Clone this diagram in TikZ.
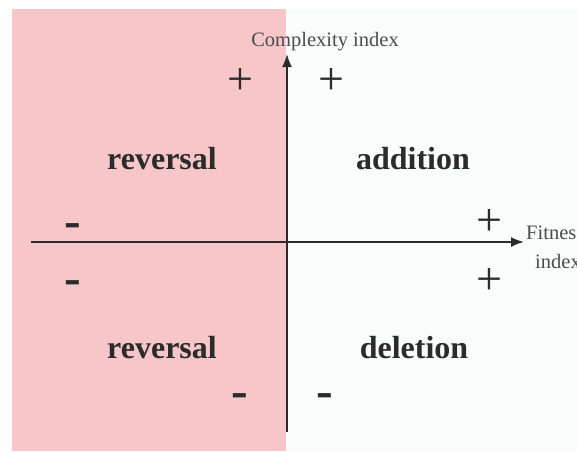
\documentclass[tikz,border=0pt]{standalone}
\usepackage{fontspec}
\setmainfont{Liberation Serif}[BoldFont={Liberation Serif Bold}]
\usetikzlibrary{arrows.meta}
\definecolor{pinkbg}{HTML}{F7C6C9}
\definecolor{offwhite}{HTML}{FAFBFB}
\definecolor{ink}{HTML}{2B2B2B}
\tikzset{
  axis/.style={draw=ink, line width=1.8pt, -{Latex[length=13pt,width=10pt]}},
  word/.style={text=ink, font=\fontsize{32}{34}\selectfont\bfseries, inner sep=0pt, anchor=base},
  label/.style={text=ink!85, font=\fontsize{20.5}{22}\selectfont, inner sep=0pt},
  plussign/.style={text=ink, font=\fontsize{46}{48}\selectfont, inner sep=0pt, anchor=base},
  minussign/.style={text=ink, font=\fontsize{50}{52}\selectfont\bfseries, inner sep=0pt, anchor=base}
}
\begin{document}
\begin{tikzpicture}[x=1pt,y=-1pt]
\clip (0,0) rectangle (577,451);
\fill[white] (0,0) rectangle (577,451);
\fill[offwhite] (12,9) rectangle (577,451);
\fill[pinkbg] (12,9) rectangle (286,451);
\coordinate (xs) at (31,242);
\coordinate (xe) at (524,242);
\coordinate (ys) at (287,432);
\coordinate (ye) at (287,54);
\draw[axis] (xs) -- (xe);
\draw[axis] (ys) -- (ye);
\node[label] (cx) at (325,42) {Complexity index};
\node[label, anchor=west] (fit) at (526,233) {Fitness};
\node[label, anchor=west] (fidx) at (535,261) {index};
\node[word] (w1) at (162,169) {reversal};
\node[word] (w2) at (413,169) {addition};
\node[word] (w3) at (162,358) {reversal};
\node[word] (w4) at (414,358) {deletion};
\node[plussign] (p1) at (240,94) {+};
\node[plussign] (p2) at (331,94) {+};
\node[plussign] (p3) at (489,235) {+};
\node[plussign] (p4) at (489,294) {+};
\node[minussign] (m1) at (73,237) {-};
\node[minussign] (m2) at (73,294) {-};
\node[minussign] (m3) at (240,407) {-};
\node[minussign] (m4) at (325,407) {-};
\end{tikzpicture}
\end{document}
